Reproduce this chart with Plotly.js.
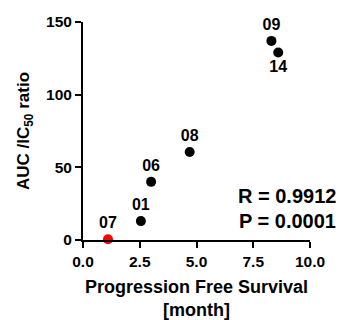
<!DOCTYPE html>
<html><head><meta charset="utf-8">
<script src="https://cdn.plot.ly/plotly-3.0.1.min.js"></script>
<style>html,body{margin:0;padding:0;background:#fff}#c{width:347px;height:320px}</style>
</head><body><div id="c"></div>
<script>
const ids = ["07","01","06","08","09","14"];
const pfs = [1.1, 2.55, 3.0, 4.7, 8.3, 8.6];
const ratio = [0.5, 13, 40, 60.5, 137, 129];
const colors = ["#ff0000","#000000","#000000","#000000","#000000","#000000"];
const labelPos = ["top center","top center","top center","top center","top center","bottom center"];
const xTicks = [0, 2.5, 5, 7.5, 10];
const yTicks = [0, 50, 100, 150];
const stats = ["R = 0.9912", "P = 0.0001"];

const font = "Liberation Sans, Arial, sans-serif";
const trace = {
  x: pfs, y: ratio, mode: "markers+text", type: "scatter",
  text: ids, textposition: labelPos,
  textfont: {family: font, size: 16, color: "#000", weight: "bold"},
  marker: {color: colors, size: 10},
  cliponaxis: false, hoverinfo: "none"
};
const layout = {
  width: 347, height: 320,
  margin: {l: 83, r: 37, t: 22, b: 80},
  paper_bgcolor: "#fff", plot_bgcolor: "#fff",
  showlegend: false,
  font: {family: font, color: "#000"},
  xaxis: {
    range: [0, 10], tickvals: xTicks, tickformat: ".1f",
    showgrid: false, zeroline: false, showline: true, linecolor: "#000", linewidth: 2,
    ticks: "outside", ticklen: 6, tickwidth: 2, tickcolor: "#000",
    tickfont: {family: font, size: 15.5, weight: "bold"},
    title: {text: "Progression Free Survival<br>[month]", font: {family: font, size: 18, weight: "bold"}, standoff: 13}
  },
  yaxis: {
    range: [0, 150], tickvals: yTicks,
    showgrid: false, zeroline: false, showline: true, linecolor: "#000", linewidth: 2,
    ticks: "outside", ticklen: 6, tickwidth: 2, tickcolor: "#000",
    tickfont: {family: font, size: 15.5, weight: "bold"},
    title: {text: "AUC /IC<sub>50</sub> ratio", font: {family: font, size: 17, weight: "bold"}, standoff: 12}
  },
  annotations: [
    {x: 1.123, y: 0.202, xref: "paper", yref: "paper", text: "<b>" + stats[0] + "</b>", showarrow: false, xanchor: "right", yanchor: "middle", font: {family: font, size: 20, color: "#000"}},
    {x: 1.123, y: 0.087, xref: "paper", yref: "paper", text: "<b>" + stats[1] + "</b>", showarrow: false, xanchor: "right", yanchor: "middle", font: {family: font, size: 20, color: "#000"}}
  ]
};
Plotly.newPlot("c", [trace], layout, {displayModeBar: false, staticPlot: true});
</script></body></html>
